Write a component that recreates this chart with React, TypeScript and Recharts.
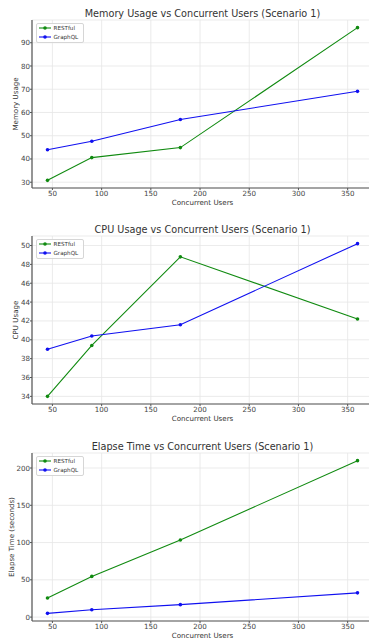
import { LineChart, Line, XAxis, YAxis, CartesianGrid, Legend } from "recharts";

const users = [45, 90, 180, 360];
const userTicks = [50, 100, 150, 200, 250, 300, 350];
const seriesNames = ["RESTful", "GraphQL"];

const memoryRest = [30.8, 40.6, 44.9, 96.5];
const memoryGraph = [44.0, 47.6, 57.0, 69.1];
const memoryTicks = [30, 40, 50, 60, 70, 80, 90];

const cpuRest = [34.0, 39.4, 48.8, 42.2];
const cpuGraph = [39.0, 40.4, 41.6, 50.2];
const cpuTicks = [34, 36, 38, 40, 42, 44, 46, 48, 50];

const elapseRest = [25.7, 54.6, 103.4, 209.9];
const elapseGraph = [5.0, 9.9, 16.7, 32.5];
const elapseTicks = [0, 50, 100, 150, 200];

const FONT = "'DejaVu Sans', sans-serif";
const GREEN = "#108a10";
const BLUE = "#1010f0";

// matplotlib-style 5% margins around the data
function padded(values: number[], pad = 0.05): [number, number] {
  const lo = Math.min(...values);
  const hi = Math.max(...values);
  const m = (hi - lo) * pad;
  return [lo - m, hi + m];
}

const renderLegend = (props: any) => {
  const items = [...(props.payload || [])].sort(
    (a: any, b: any) => seriesNames.indexOf(a.value) - seriesNames.indexOf(b.value)
  );
  return (
    <div
      style={{
        border: "1px solid #d6d6d6",
        borderRadius: 2,
        background: "rgba(255,255,255,0.85)",
        padding: "0.5px 5px 0.5px 2px",
        fontFamily: FONT,
      }}
    >
      {items.map((p: any) => (
        <div key={p.value} style={{ display: "flex", alignItems: "center", height: 8.5 }}>
          <svg width={12} height={4} style={{ display: "block" }}>
            <line x1={0} y1={2} x2={12} y2={2} stroke={p.color} strokeWidth={1.1} />
            <circle cx={6} cy={2} r={1.8} fill={p.color} />
          </svg>
          <span style={{ marginLeft: 3, fontSize: 5.6, color: "#333", lineHeight: "8px" }}>{p.value}</span>
        </div>
      ))}
    </div>
  );
};

function Panel(props: {
  top: number;
  title: string;
  yLabel: string;
  yLabelX: number;
  rest: number[];
  graph: number[];
  ticks: number[];
}) {
  const rows = users.map((u, i) => ({ users: u, RESTful: props.rest[i], GraphQL: props.graph[i] }));
  const tickStyle = { fontSize: 7.1, fill: "#444", fontFamily: FONT };
  const labelStyle = { fontSize: 7.1, fill: "#333", fontFamily: FONT, textAnchor: "middle" as const };
  return (
    <div style={{ position: "absolute", left: 0, top: props.top }}>
      <div
        style={{
          position: "absolute",
          left: 32,
          width: 341,
          top: 7.5,
          lineHeight: "12px",
          textAlign: "center",
          fontSize: 9.7,
          color: "#333",
          fontFamily: FONT,
          whiteSpace: "nowrap",
        }}
      >
        {props.title}
      </div>
      <LineChart width={373} height={210} data={rows} margin={{ top: 20, right: 0, bottom: 0, left: 0 }}>
        <CartesianGrid stroke="#e6e6e6" strokeWidth={0.8} />
        <XAxis
          dataKey="users"
          type="number"
          domain={padded(users)}
          ticks={userTicks}
          interval={0}
          height={22}
          tick={tickStyle}
          tickSize={2}
          tickMargin={1}
          axisLine={{ stroke: "#555", strokeWidth: 1.2 }}
          tickLine={{ stroke: "#555" }}
          label={{ value: "Concurrent Users", position: "insideBottom", offset: 5.5, style: labelStyle }}
        />
        <YAxis
          type="number"
          domain={padded([...props.rest, ...props.graph])}
          ticks={props.ticks}
          interval={0}
          width={32}
          tick={tickStyle}
          tickSize={2}
          tickMargin={0}
          axisLine={{ stroke: "#555", strokeWidth: 1.2 }}
          tickLine={{ stroke: "#555" }}
          label={{ value: props.yLabel, angle: -90, position: "insideLeft", offset: props.yLabelX, style: labelStyle }}
        />
        <Legend
          layout="vertical"
          align="center"
          verticalAlign="middle"
          content={renderLegend}
          wrapperStyle={{ top: 22.5, left: 35.5, width: "auto", height: "auto" }}
        />
        <Line
          dataKey="RESTful"
          stroke={GREEN}
          strokeWidth={1.1}
          dot={{ r: 1.8, fill: GREEN, stroke: "none" }}
          isAnimationActive={false}
        />
        <Line
          dataKey="GraphQL"
          stroke={BLUE}
          strokeWidth={1.1}
          dot={{ r: 1.8, fill: BLUE, stroke: "none" }}
          isAnimationActive={false}
        />
      </LineChart>
    </div>
  );
}

export default function App() {
  return (
    <div
      style={{
        position: "absolute",
        left: 0,
        top: 0,
        width: 369,
        height: 640,
        overflow: "hidden",
        background: "#fff",
      }}
    >
      <Panel
        top={0}
        title="Memory Usage vs Concurrent Users (Scenario 1)"
        yLabel="Memory Usage"
        yLabelX={15}
        rest={memoryRest}
        graph={memoryGraph}
        ticks={memoryTicks}
      />
      <Panel
        top={216}
        title="CPU Usage vs Concurrent Users (Scenario 1)"
        yLabel="CPU Usage"
        yLabelX={15}
        rest={cpuRest}
        graph={cpuGraph}
        ticks={cpuTicks}
      />
      <Panel
        top={433}
        title="Elapse Time vs Concurrent Users (Scenario 1)"
        yLabel="Elapse Time (seconds)"
        yLabelX={11}
        rest={elapseRest}
        graph={elapseGraph}
        ticks={elapseTicks}
      />
    </div>
  );
}
